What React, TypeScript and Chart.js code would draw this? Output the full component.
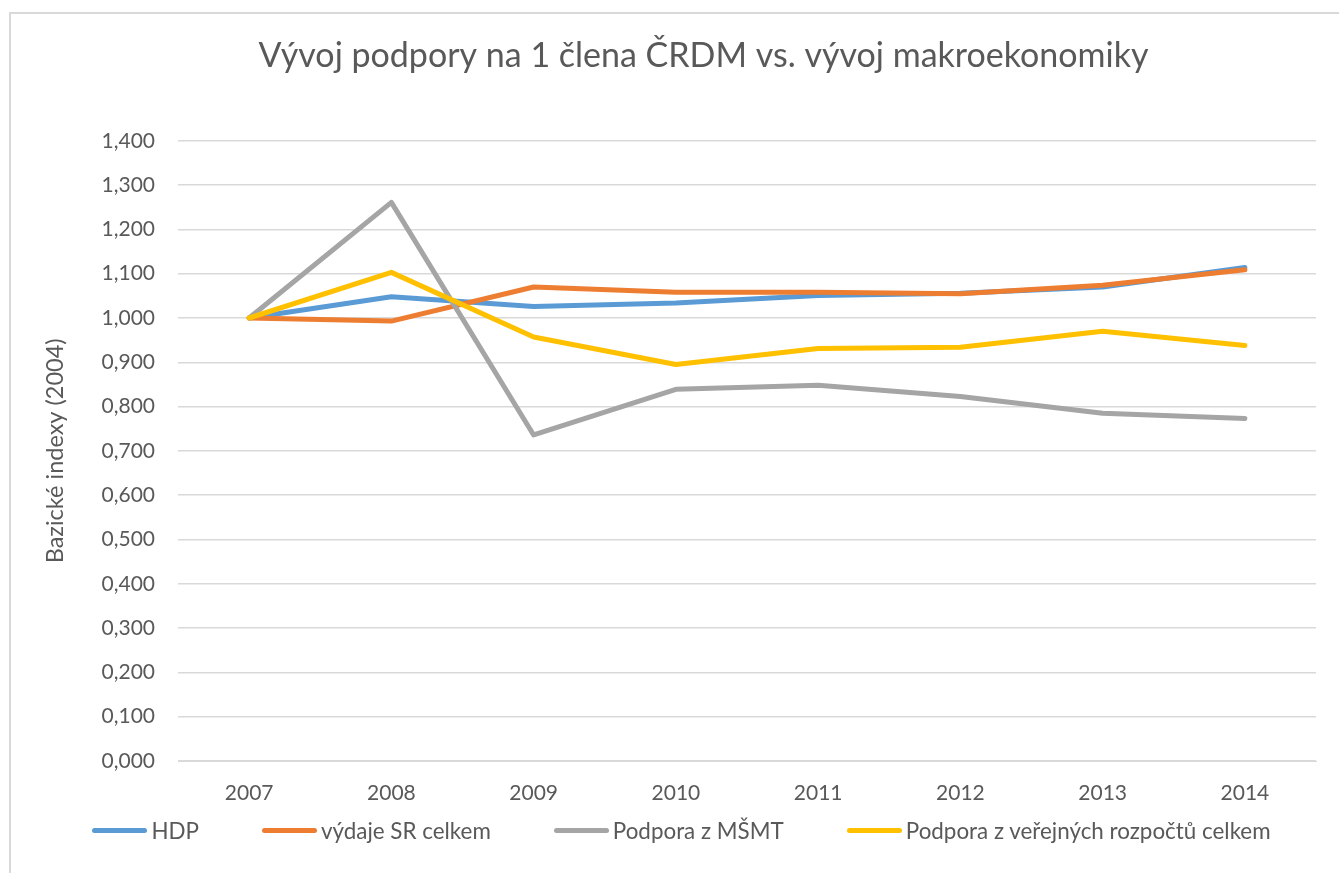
import React, { useEffect, useRef } from "react";
import { Chart, registerables } from "chart.js";

Chart.register(...registerables);

const categories = ["2007", "2008", "2009", "2010", "2011", "2012", "2013", "2014"];
const seriesNames = ["HDP", "výdaje SR celkem", "Podpora z MŠMT", "Podpora z veřejných rozpočtů celkem"];
const seriesColors = ["#5B9BD5", "#ED7D31", "#A5A5A5", "#FFC000"];
const hdp = [1.0, 1.048, 1.026, 1.034, 1.051, 1.056, 1.07, 1.114];
const vydajeSR = [1.0, 0.993, 1.07, 1.058, 1.058, 1.055, 1.074, 1.109];
const podporaMSMT = [1.0, 1.261, 0.736, 0.839, 0.848, 0.823, 0.785, 0.773];
const podporaVerejne = [1.0, 1.103, 0.957, 0.895, 0.931, 0.934, 0.97, 0.938];
const seriesValues = [hdp, vydajeSR, podporaMSMT, podporaVerejne];
const yMin = 0;
const yMax = 1.4;
const yStep = 0.1;

const FONT = "Lato, 'Open Sans', sans-serif";
const TEXT = "#595959";

export default function App() {
  const ref = useRef<HTMLCanvasElement | null>(null);

  useEffect(() => {
    document.body.style.margin = "0";
    document.body.style.overflow = "hidden";
    const canvas = ref.current;
    if (!canvas) return;
    const chart = new Chart(canvas, {
      type: "line",
      data: {
        labels: categories,
        datasets: seriesValues.map((vals, i) => ({
          label: seriesNames[i],
          data: vals,
          borderColor: seriesColors[i],
          backgroundColor: seriesColors[i],
          borderWidth: 5,
          pointRadius: 0,
          pointHoverRadius: 0,
          tension: 0,
          fill: false,
          borderCapStyle: "round" as const,
          borderJoinStyle: "round" as const,
          order: seriesValues.length - i,
        })),
      },
      options: {
        animation: false,
        responsive: false,
        devicePixelRatio: 1,
        layout: { padding: { left: 80, right: 23, top: 0, bottom: 62 } },
        plugins: {
          legend: { display: false },
          tooltip: { enabled: false },
          title: {
            display: true,
            text: "Vývoj podpory na 1 člena ČRDM vs. vývoj makroekonomiky",
            color: TEXT,
            font: { family: FONT, size: 34, weight: "normal" },
            padding: { top: 22, bottom: 64 },
          },
        },
        scales: {
          x: {
            type: "category",
            offset: true,
            grid: { display: false, drawTicks: false },
            border: { display: true, color: "#D9D9D9", width: 1 },
            ticks: { color: TEXT, font: { family: FONT, size: 21 }, padding: 20, maxRotation: 0 },
            afterFit: (s: any) => {
              s.height = 50;
            },
          },
          y: {
            min: yMin,
            max: yMax,
            grid: { color: "#D9D9D9", lineWidth: 1.5, drawTicks: false },
            border: { display: false },
            ticks: {
              stepSize: yStep,
              color: TEXT,
              font: { family: FONT, size: 21 },
              padding: 23,
              callback: (v: any) => Number(v).toFixed(3).replace(".", ","),
            },
            title: {
              display: true,
              text: "Bazické indexy (2004)",
              color: TEXT,
              font: { family: FONT, size: 23.5, weight: "normal" },
              padding: { top: -50, bottom: 0 },
            },
            afterFit: (s: any) => {
              s.width = 87;
            },
          },
        },
      },
    });
    return () => chart.destroy();
  }, []);

  return (
    <div style={{ position: "fixed", left: 0, top: 0, width: 1339, height: 873, overflow: "hidden", background: "#fff" }}>
      <div
        style={{
          position: "absolute",
          left: 9,
          top: 12,
          width: 1345,
          height: 900,
          border: "2px solid #D9D9D9",
          boxSizing: "border-box",
        }}
      >
        <canvas ref={ref} width={1328} height={859} style={{ position: "absolute", left: 0, top: 0, width: 1328, height: 859 }} />
        <div
          style={{
            position: "absolute",
            left: 0,
            top: 803,
            width: 1341,
            display: "flex",
            justifyContent: "center",
            alignItems: "center",
            gap: 63,
            fontFamily: FONT,
            fontSize: 22.4,
            color: TEXT,
            whiteSpace: "nowrap",
          }}
        >
          {seriesNames.map((n, i) => (
            <div key={n} style={{ display: "flex", alignItems: "center" }}>
              <span
                style={{
                  display: "inline-block",
                  width: 55,
                  height: 5,
                  borderRadius: 3,
                  background: seriesColors[i],
                  marginRight: 4,
                }}
              />
              <span>{n}</span>
            </div>
          ))}
        </div>
      </div>
    </div>
  );
}
